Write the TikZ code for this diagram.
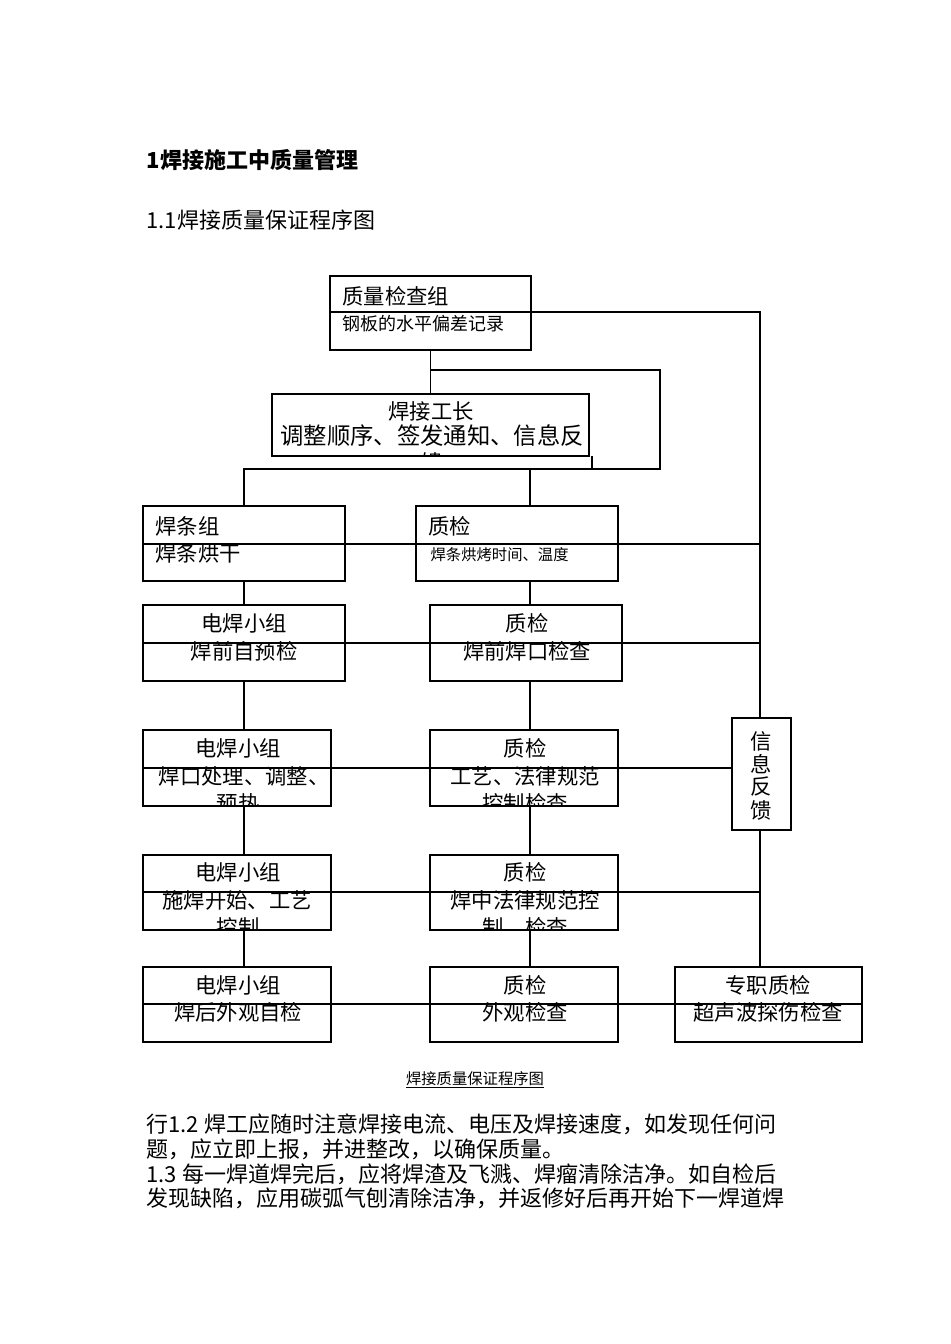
\documentclass[tikz,border=0pt]{standalone}
\usepackage{fontspec}
\setmainfont{Noto Sans CJK SC}
\begin{document}
\begin{tikzpicture}[x=0.75pt,y=-0.75pt,line width=0.9pt,
  box/.style={draw,inner sep=0},
  t/.style={inner sep=0,font=\fontsize{16}{18}\selectfont},
  ts/.style={inner sep=0,font=\fontsize{13.5}{16}\selectfont},
  tss/.style={inner sep=0,font=\fontsize{11.5}{14}\selectfont},
  p/.style={inner sep=0,anchor=west,font=\fontsize{16.5}{19}\selectfont}]
\useasboundingbox (0,0) rectangle (950,1344);
\newcommand\bx[5]{\node[box,minimum width={(#4-#2)*0.75pt},minimum height={(#5-#3)*0.75pt}] (#1) at ({(#2+#4)/2},{(#3+#5)/2}) {};}
% headings
\node[p,font=\fontsize{16.5}{19}\selectfont\bfseries] (h1) at (146,160) {1焊接施工中质量管理};
\node[p] (h2) at (146,220) {1.1焊接质量保证程序图};
% boxes
\bx{qc}{330}{276}{531}{350}
\bx{fm}{272}{394}{589}{456}
\bx{w1}{143}{506}{345}{581}
\bx{q1}{416}{506}{618}{581}
\bx{w2}{143}{605}{345}{681}
\bx{q2}{430}{605}{622}{681}
\bx{w3}{143}{730}{331}{806}
\bx{q3}{430}{730}{618}{806}
\bx{fb}{732}{718}{791}{830}
\bx{w4}{143}{855}{331}{930}
\bx{q4}{430}{855}{618}{930}
\bx{w5}{143}{967}{331}{1042}
\bx{q5}{430}{967}{618}{1042}
\bx{zz}{675}{967}{862}{1042}
% texts
\node[t,anchor=west] (qca) at (342,296) {质量检查组};
\node[ts,anchor=west] (qcb) at (342,324) {钢板的水平偏差记录};
\begin{scope}\clip (272,394) rectangle (589,456);
\node[t] (fma) at (431,411) {焊接工长};
\node[t,font=\fontsize{17.5}{18}\selectfont] (fmb) at (432,436) {调整顺序、签发通知、信息反};
\node[t] (fmc) at (432,462) {馈};
\end{scope}
\node[t,anchor=west] (w1a) at (155,526) {焊条组};
\node[t,anchor=west] (w1b) at (155,553) {焊条烘干};
\node[t,anchor=west] (q1a) at (428,526) {质检};
\node[tss,anchor=west] (q1b) at (430,555) {焊条烘烤时间、温度};
\node[t] (w2a) at (244,623) {电焊小组};
\node[t] (w2b) at (244,651) {焊前自预检};
\node[t] (q2a) at (527,623) {质检};
\node[t] (q2b) at (527,651) {焊前焊口检查};
\begin{scope}\clip (143,730) rectangle (331,806);
\node[t] (w3a) at (238,748) {电焊小组};
\node[t] (w3b) at (244,776) {焊口处理、调整、};
\node[t] (w3c) at (238,803) {预热};
\end{scope}
\begin{scope}\clip (430,730) rectangle (618,806);
\node[t] (q3a) at (525,748) {质检};
\node[t] (q3b) at (525,776) {工艺、法律规范};
\node[t] (q3c) at (525,803) {控制检查};
\end{scope}
\node[t] (fba) at (761,741) {信};
\node[t] (fbb) at (761,764) {息};
\node[t] (fbc) at (761,787) {反};
\node[t] (fbd) at (761,810) {馈};
\begin{scope}\clip (143,855) rectangle (331,930);
\node[t] (w4a) at (238,872) {电焊小组};
\node[t] (w4b) at (237,900) {施焊开始、工艺};
\node[t] (w4c) at (238,927) {控制};
\end{scope}
\begin{scope}\clip (430,855) rectangle (618,930);
\node[t] (q4a) at (525,872) {质检};
\node[t] (q4b) at (525,900) {焊中法律规范控};
\node[t] (q4c) at (525,927) {制、检查};
\end{scope}
\node[t] (w5a) at (238,985) {电焊小组};
\node[t] (w5b) at (238,1012) {焊后外观自检};
\node[t] (q5a) at (525,985) {质检};
\node[t] (q5b) at (525,1012) {外观检查};
\node[t] (zza) at (768,985) {专职质检};
\node[t] (zzb) at (768,1012) {超声波探伤检查};
% connectors
\coordinate (j1) at (430,370);
\coordinate (j2) at (660,370);
\coordinate (j3) at (660,469);
\coordinate (j4) at (530,469);
\coordinate (k1) at (592,456);
\coordinate (k2) at (592,469);
\coordinate (k3) at (244,469);
\coordinate (r0) at (531,312);
\coordinate (r1) at (760,312);
\draw (qc.south) -- (fm.north);
\draw (j1) -- (j2) -- (j3) -- (j4) -- (j4 |- q1.north);
\draw (k1) -- (k2) -- (k3) -- (w1.north);
\draw (qc.west |- r0) -- (r1) -- (r1 |- fb.north);
\draw (fb.south -| r1) -- (r1 |- zz.north);
\draw (w1.west |- 0,544) -- (760,544);
\draw (w2.west |- 0,643) -- (760,643);
\draw (w3.west |- 0,768) -- (fb.west |- 0,768);
\draw (w4.west |- 0,892) -- (760,892);
\draw (w5.west |- 0,1004) -- (zz.east |- 0,1004);
\draw (w1.south) -- (w2.north);
\draw (w2.south) -- (w2.south |- w3.north);
\draw (w3.south -| w2.south) -- (w2.south |- w4.north);
\draw (w4.south -| w2.south) -- (w2.south |- w5.north);
\draw (q1.south -| j4) -- (j4 |- q2.north);
\draw (q2.south -| j4) -- (j4 |- q3.north);
\draw (q3.south -| j4) -- (j4 |- q4.north);
\draw (q4.south -| j4) -- (j4 |- q5.north);
% caption
\node[inner sep=0,font=\fontsize{11.5}{14}\selectfont] (cap) at (475,1080) {\underline{焊接质量保证程序图}};
% paragraph
\node[p] (l1) at (146,1124) {行1.2 焊工应随时注意焊接电流、电压及焊接速度，如发现任何问};
\node[p] (l2) at (146,1149) {题，应立即上报，并进整改，以确保质量。};
\node[p] (l3) at (146,1174) {1.3 每一焊道焊完后，应将焊渣及飞溅、焊瘤清除洁净。如自检后};
\node[p] (l4) at (146,1198) {发现缺陷，应用碳弧气刨清除洁净，并返修好后再开始下一焊道焊};
\end{tikzpicture}
\end{document}
